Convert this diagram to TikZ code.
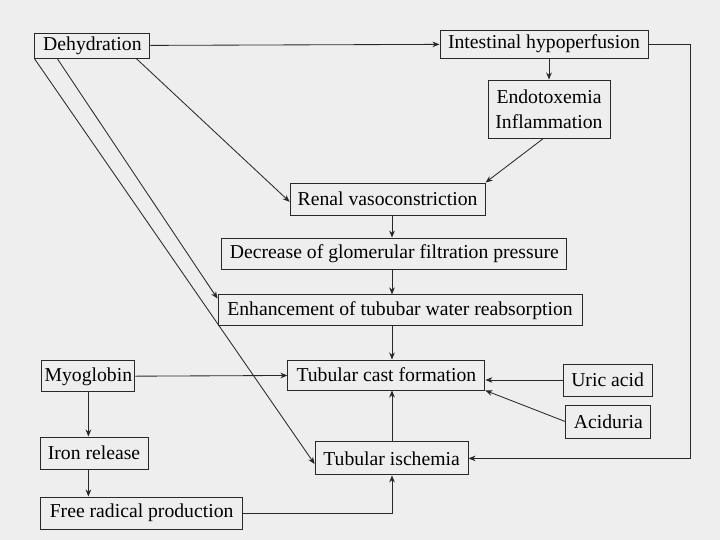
\documentclass[tikz,border=0pt]{standalone}
\usepackage{fontspec}
\setmainfont{Liberation Serif}
\usepackage{tikz}
\usetikzlibrary{arrows.meta}
\usetikzlibrary{calc}
\definecolor{paper}{RGB}{238,238,238}
\definecolor{ink}{RGB}{40,40,40}

\begin{document}
\begin{tikzpicture}[
			every node/.style={font=\fontsize{14}{17.5}\selectfont},
			box/.style={rectangle, draw=ink, line width=0.7pt, fill=paper, inner sep=0pt, align=center},
			link/.style={draw=ink, line width=0.6pt, -{Stealth[length=5pt,width=4pt]}}
		]
		\fill[paper] (0,0) rectangle (18,13.5);
		\useasboundingbox (0,0) rectangle (18,13.5);

		\node[box, minimum width=2.875cm, minimum height=0.625cm] (dehyd) at (2.31,12.36) {Dehydration};
		\node[box, minimum width=5.2cm, minimum height=0.7cm] (intest) at (13.6,12.4) {Intestinal hypoperfusion};
		\node[box, minimum width=3.05cm, minimum height=1.45cm] (endo) at (13.725,10.775) {Endotoxemia\\Inflammation};
		\node[box, minimum width=4.875cm, minimum height=0.8cm] (renal) at (9.69,8.525) {Renal vasoconstriction};
		\node[box, minimum width=8.625cm, minimum height=0.775cm] (decr) at (9.86,7.16) {Decrease of glomerular filtration pressure};
		\node[box, minimum width=9.1cm, minimum height=0.775cm] (enh) at (10.0,5.74) {Enhancement of tububar water reabsorption};
		\node[box, minimum width=2.325cm, minimum height=0.775cm] (myo) at (2.21,4.09) {Myoglobin};
		\node[box, minimum width=4.925cm, minimum height=0.75cm] (cast) at (9.66,4.125) {Tubular cast formation};
		\node[box, minimum width=2.225cm, minimum height=0.8cm] (uric) at (15.19,4.0) {Uric acid};
		\node[box, minimum width=2.125cm, minimum height=0.825cm] (acid) at (15.21,2.96) {Aciduria};
		\node[box, minimum width=2.7cm, minimum height=0.8cm] (iron) at (2.35,2.175) {Iron release};
		\node[box, minimum width=3.825cm, minimum height=0.825cm] (isch) at (9.79,2.04) {Tubular ischemia};
		\node[box, minimum width=5.05cm, minimum height=0.8cm] (free) at (3.54,0.675) {Free radical production};

		\coordinate (spine) at (9.8,0);

		\draw[link] (dehyd) -- (intest);
		\draw[link] (intest.south -| endo) -- (endo);
		\draw[link] ([xshift=-10pt]dehyd.south east) -- ([yshift=-2pt]renal.west);
		\draw[link] ([xshift=-4pt]endo.south) -- (renal.north east);
		\draw[link] (renal.south -| spine) -- (decr.north -| spine);
		\draw[link] (decr.south -| spine) -- (enh.north -| spine);
		\draw[link] (enh.south -| spine) -- (cast.north -| spine);
		\draw[link] ([xshift=-25pt]dehyd.south) -- ([yshift=-3pt]enh.north west);
		\draw[link] (dehyd.south west) -- ([yshift=-4pt]isch.west);
		\draw[link] (myo) -- (cast);
		\draw[link] (uric.west) -- (uric.west -| cast.east);
		\draw[link] (acid.west) -- (cast.south east);
		\draw[link] (myo.south) -- (myo.south |- iron.north);
		\draw[link] (myo.south |- iron.south) -- (myo.south |- free.north);
		\draw[link] (free.east) -| (isch.south -| spine);
		\draw[link] (isch.north -| spine) -- (cast.south -| spine);
		\draw[link] (intest.east) -- ++(1.05,0) |- (isch.east);
	\end{tikzpicture}
\end{document}
